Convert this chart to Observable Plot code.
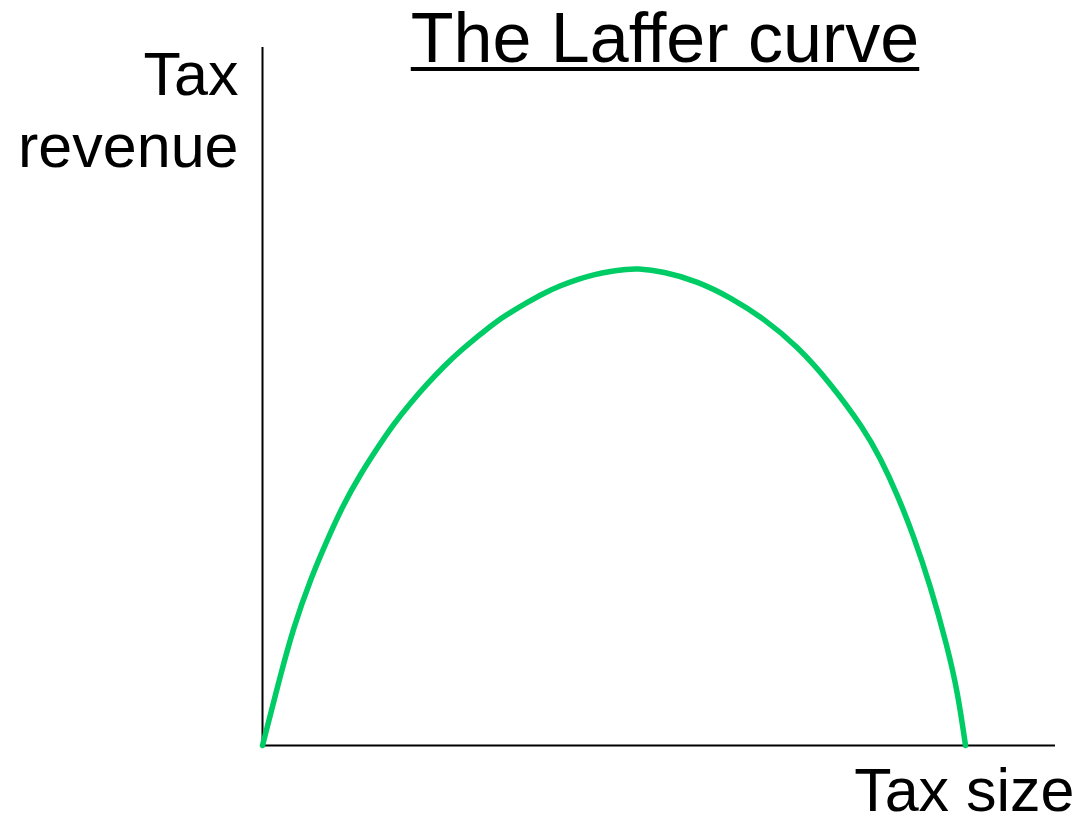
<!DOCTYPE html>
<html>
<head>
<meta charset="utf-8">
<script src="https://cdn.jsdelivr.net/npm/d3@7"></script>
<script src="https://cdn.jsdelivr.net/npm/@observablehq/plot@0.6"></script>
<style>
  html, body { margin: 0; padding: 0; background: #fff; }
  #wrap { position: relative; width: 1084px; height: 818px; overflow: hidden; }
  #title {
    position: absolute; top: 3px; left: 665px; transform: translateX(-50%);
    font-family: "Liberation Sans", Arial, sans-serif; font-size: 70px; line-height: 70px;
    color: #000; white-space: nowrap;
    text-decoration: underline; text-decoration-thickness: 4px; text-underline-offset: 5px;
  }
  #chart { position: absolute; top: 0; left: 0; }
</style>
</head>
<body>
<div id="wrap">
  <div id="chart"></div>
  <div id="title">The Laffer curve</div>
</div>
<script>
// Tax size (0 = no tax, 100 = where revenue returns to zero)
const taxSize = [0, 2.6, 4.4, 6.8, 9.3, 11.5, 13.9, 16.4, 18.6, 21.1, 23.5, 25.8, 28.2, 30.6, 32.9, 35.3, 37.7, 40.0, 42.4, 44.8, 47.1, 49.5, 51.9, 53.1, 57.0, 61.9, 66.6, 71.3, 76.1, 80.8, 85.5, 87.9, 90.3, 92.6, 95.0, 97.4, 98.9, 100];
// Tax revenue (peak = 100)
const taxRevenue = [0, 15.0, 24.7, 34.8, 43.4, 50.5, 56.8, 62.5, 67.3, 71.9, 75.9, 79.5, 82.8, 85.7, 88.5, 90.8, 92.9, 94.8, 96.4, 97.7, 98.7, 99.4, 99.8, 100, 99.4, 97.3, 93.9, 89.5, 83.7, 75.9, 66.5, 60.2, 52.6, 44.0, 33.5, 20.8, 11.1, 0];
const yLabel = "Tax\nrevenue";
const xLabel = "Tax size";
const xDomain = [0, 112.8];
const yDomain = [0, 146.3];

const curve = taxSize.map((x, i) => ({x, y: taxRevenue[i]}));

const chart = Plot.plot({
  width: 1084,
  height: 818,
  marginLeft: 262,
  marginRight: 29,
  marginTop: 47,
  marginBottom: 73,
  x: {domain: xDomain, axis: null},
  y: {domain: yDomain, axis: null},
  style: {fontFamily: "'Liberation Sans', Arial, sans-serif", background: "white", color: "black", overflow: "visible"},
  marks: [
    Plot.ruleX([0], {stroke: "black", strokeWidth: 2}),
    Plot.ruleY([0], {stroke: "black", strokeWidth: 2}),
    Plot.line(curve, {x: "x", y: "y", stroke: "#00cc66", strokeWidth: 5.5, curve: "basis"}),
    Plot.text([yLabel], {text: d => d, frameAnchor: "top-left", textAnchor: "end", lineAnchor: "top", dx: -24, dy: -3, fontSize: 61, lineHeight: 1.17, fill: "black"}),
    Plot.text([xLabel], {text: d => d, frameAnchor: "bottom-right", textAnchor: "end", lineAnchor: "bottom", dx: 19, dy: 65, fontSize: 61, fill: "black"})
  ]
});
document.getElementById("chart").appendChild(chart);
</script>
</body>
</html>
